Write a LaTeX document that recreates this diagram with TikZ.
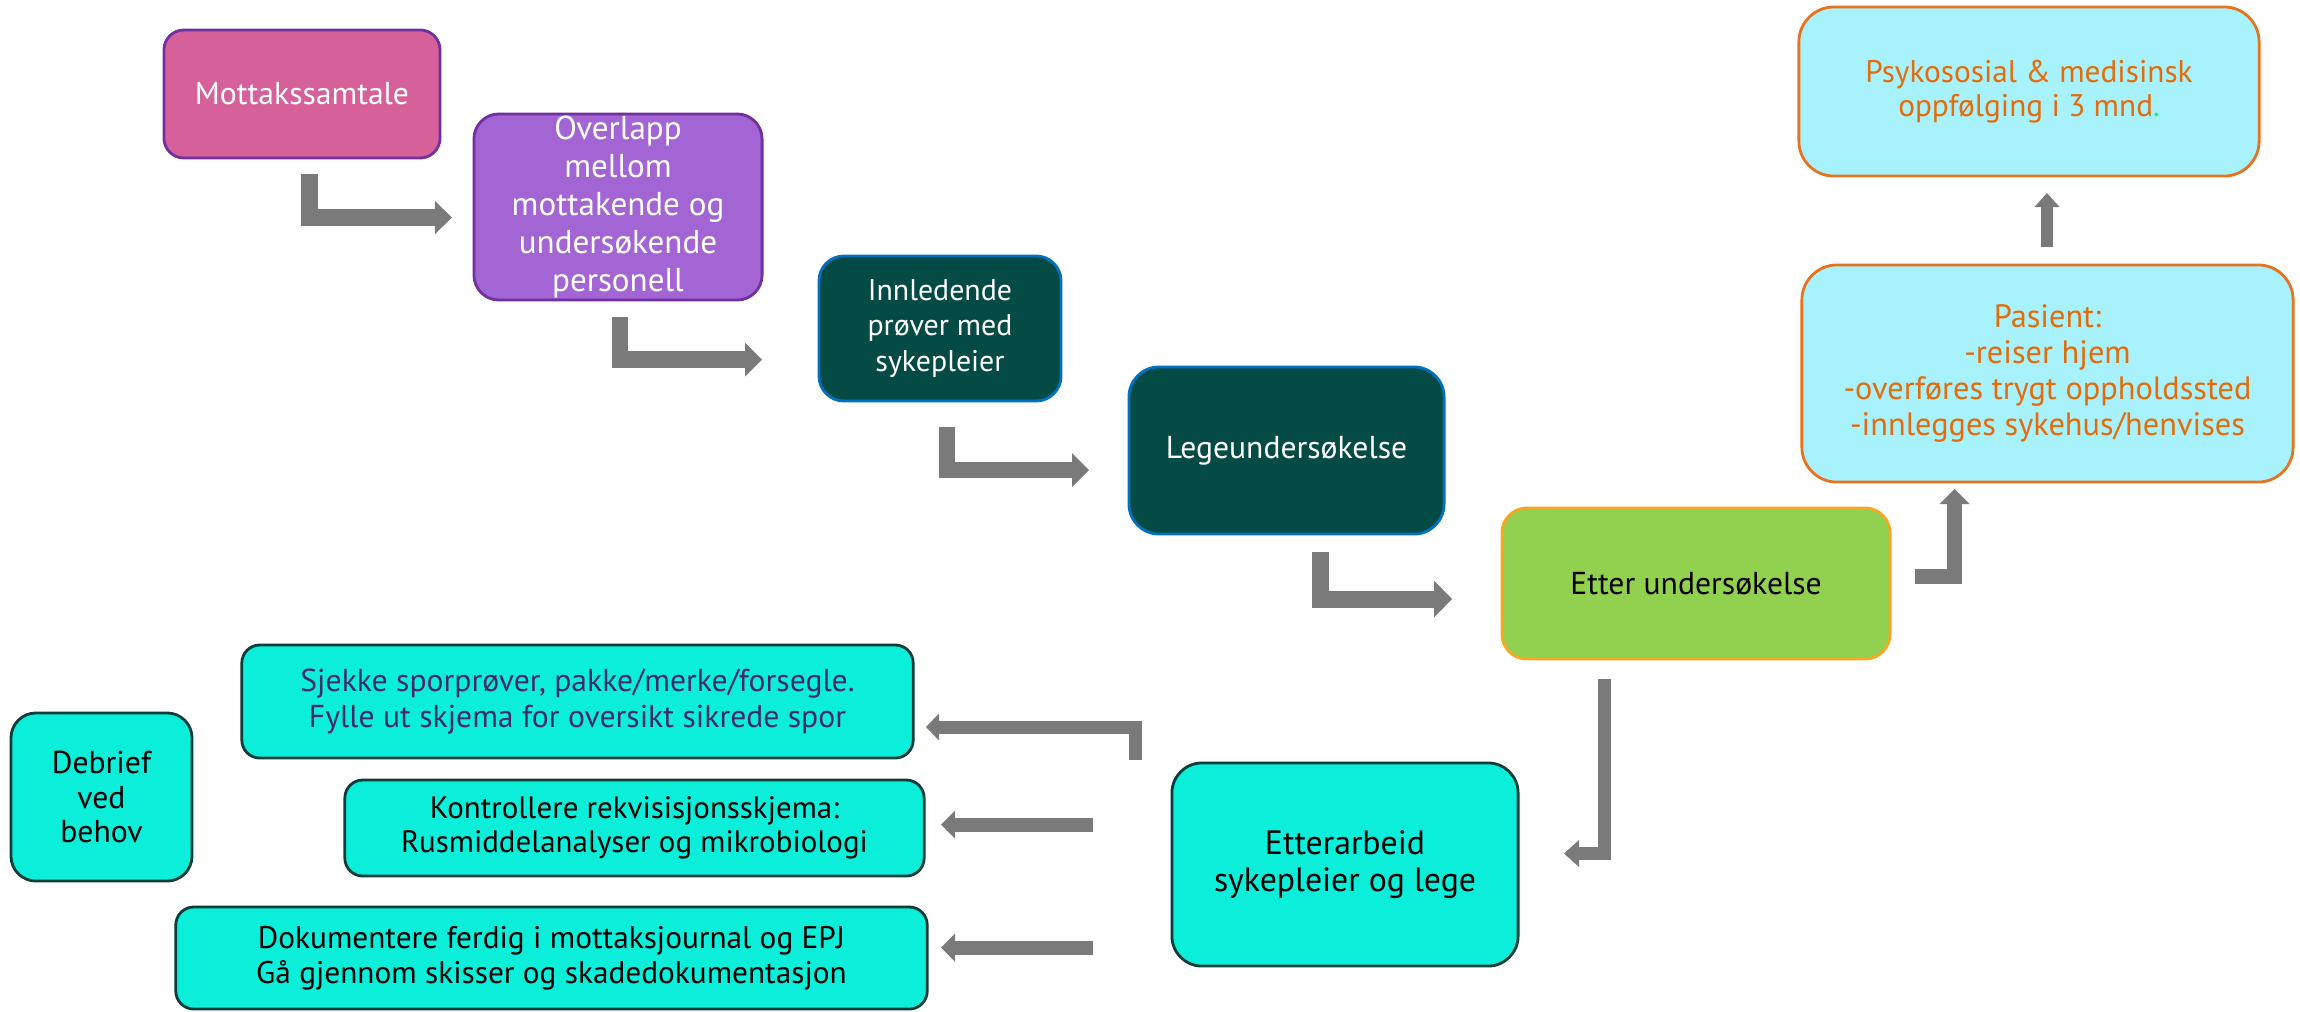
\documentclass[tikz,border=0pt]{standalone}
\usepackage{fontspec}
\setmainfont{PT Sans}
\usetikzlibrary{arrows.meta}
\definecolor{pinkf}{HTML}{D5609A}
\definecolor{purpd}{HTML}{7030A0}
\definecolor{purpf}{HTML}{A365D3}
\definecolor{tealf}{HTML}{054B45}
\definecolor{blued}{HTML}{0070C0}
\definecolor{greenf}{HTML}{92D050}
\definecolor{ambd}{HTML}{F7A823}
\definecolor{cyanf}{HTML}{A8F2FD}
\definecolor{orad}{HTML}{E8731E}
\definecolor{oratext}{HTML}{E46C0A}
\definecolor{turqf}{HTML}{0BEFDA}
\definecolor{turqd}{HTML}{0C3D3A}
\definecolor{purptext}{HTML}{3D2A6C}
\definecolor{arrowgray}{HTML}{7A7A7A}
\definecolor{dotgreen}{HTML}{1EE88C}
\begin{document}
\begin{tikzpicture}[x=0.01cm,y=-0.01cm,
  box/.style={draw, rounded corners=0.25cm, line width=0.8pt, align=center, inner sep=0pt,
    font=\fontsize{9}{10.2}\selectfont},
  pinkbox/.style={box, fill=pinkf, draw=purpd, text=white, rounded corners=0.2cm},
  purpbox/.style={box, fill=purpf, draw=purpd, text=white, font=\fontsize{9.4}{10.8}\selectfont},
  tealbox/.style={box, fill=tealf, draw=blued, text=white},
  greenbox/.style={box, fill=greenf, draw=ambd, text=black},
  cyanbox/.style={box, fill=cyanf, draw=orad, text=oratext, rounded corners=0.35cm},
  turqbox/.style={box, fill=turqf, draw=turqd, text=black, rounded corners=0.18cm},
  conn/.style n args={3}{draw=arrowgray, line width=#1, line join=miter, line cap=butt,
    -{Triangle[length=#2, width=#3, line width=0pt]}}
]
\useasboundingbox (0,0) rectangle (2300,1011);

% boxes
\node[pinkbox, minimum width=2.76cm, minimum height=1.28cm] (mott) at (302,94) {Mottakssamtale};
\node[purpbox, minimum width=2.88cm, minimum height=1.86cm] (overl) at (618,207)
  {Overlapp\\mellom\\mottakende og\\undersøkende\\personell};
\node[tealbox, minimum width=2.42cm, minimum height=1.45cm, font=\fontsize{8.5}{10}\selectfont] (innl) at (940,328.5)
  {Innledende\\prøver med\\sykepleier};
\node[tealbox, minimum width=3.15cm, minimum height=1.67cm, rounded corners=0.3cm] (lege) at (1286.5,450.5)
  {Legeundersøkelse};
\node[greenbox, minimum width=3.88cm, minimum height=1.51cm] (etter) at (1696,583.5)
  {Etter undersøkelse};
\node[cyanbox, minimum width=4.91cm, minimum height=2.17cm, font=\fontsize{9.2}{10.2}\selectfont] (pas) at (2047.5,373.5)
  {Pasient:\\-reiser hjem\\-overføres trygt oppholdssted\\-innlegges sykehus/henvises};
\node[cyanbox, minimum width=4.60cm, minimum height=1.69cm, font=\fontsize{8.9}{9.8}\selectfont] (psyk) at (2029,91.5)
  {Psykososial \& medisinsk\\oppfølging i 3 mnd{\color{dotgreen}.}};
\node[turqbox, minimum width=3.46cm, minimum height=2.03cm, rounded corners=0.3cm, font=\fontsize{9.6}{10.3}\selectfont] (etterarb) at (1345,864.5)
  {Etterarbeid\\sykepleier og lege};
\node[turqbox, minimum width=6.71cm, minimum height=1.13cm, text=purptext] (sjekke) at (577.5,701.5)
  {Sjekke sporprøver, pakke/merke/forsegle.\\Fylle ut skjema for oversikt sikrede spor};
\node[turqbox, minimum width=5.79cm, minimum height=0.96cm, font=\fontsize{8.8}{9.8}\selectfont] (kontr) at (634.5,828)
  {Kontrollere rekvisisjonsskjema:\\Rusmiddelanalyser og mikrobiologi};
\node[turqbox, minimum width=7.51cm, minimum height=1.02cm, font=\fontsize{8.9}{9.8}\selectfont] (dok) at (551.5,958)
  {Dokumentere ferdig i mottaksjournal og EPJ\\Gå gjennom skisser og skadedokumentasjon};
\node[turqbox, minimum width=1.81cm, minimum height=1.68cm, rounded corners=0.25cm, font=\fontsize{9}{9.8}\selectfont] (debrief) at (101.5,797)
  {Debrief\\ved\\behov};

% connector end points
\coordinate (a1s) at (309.5,174);  \coordinate (a1e) at (452,217.5);
\coordinate (a2s) at (620,317);    \coordinate (a2e) at (762,359.5);
\coordinate (a3s) at (947,427);    \coordinate (a3e) at (1089,470);
\coordinate (a4s) at (1320,552);   \coordinate (a4e) at (1452,599);
\coordinate (a5s) at (1915,576.5); \coordinate (a5e) at (1954.5,489);
\coordinate (a6s) at (2047,247);   \coordinate (a6e) at (2047,193);
\coordinate (a7s) at (1604.5,679); \coordinate (a7e) at (1564,853.5);
\coordinate (a8s) at (1135.5,760); \coordinate (a8e) at (926,727);
\coordinate (a9s) at (1093,824.5); \coordinate (a9e) at (941,824.5);
\coordinate (a10s) at (1093,947.5); \coordinate (a10e) at (941,947.5);

% connectors
\draw[conn={0.17cm}{0.17cm}{0.33cm}] (a1s) |- (a1e);
\draw[conn={0.165cm}{0.17cm}{0.34cm}] (a2s) |- (a2e);
\draw[conn={0.16cm}{0.17cm}{0.34cm}] (a3s) |- (a3e);
\draw[conn={0.17cm}{0.18cm}{0.37cm}] (a4s) |- (a4e);
\draw[conn={0.15cm}{0.15cm}{0.30cm}] (a5s) -| (a5e);
\draw[conn={0.12cm}{0.14cm}{0.25cm}] (a6s) -- (a6e);
\draw[conn={0.13cm}{0.15cm}{0.27cm}] (a7s) |- (a7e);
\draw[conn={0.13cm}{0.13cm}{0.27cm}] (a8s) |- (a8e);
\draw[conn={0.14cm}{0.14cm}{0.28cm}] (a9s) -- (a9e);
\draw[conn={0.14cm}{0.14cm}{0.28cm}] (a10s) -- (a10e);
\end{tikzpicture}
\end{document}
